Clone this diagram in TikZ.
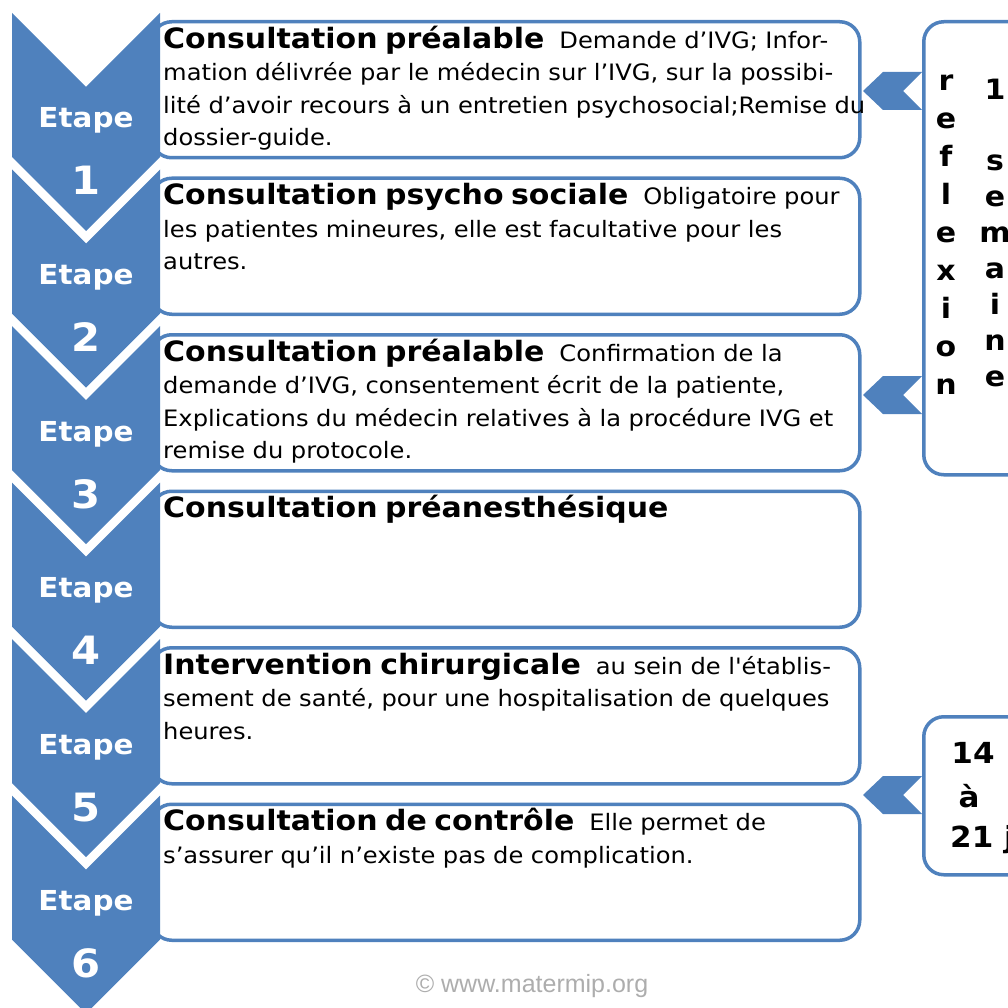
\documentclass[tikz,border=0pt]{standalone}
\usepackage{fontspec}
\setmainfont{DejaVu Sans}
\newfontfamily\comic[FakeStretch=1.07,Ligatures=TeXOff]{DejaVu Sans}
\newfontfamily\wmfont{Liberation Sans}
\definecolor{ablue}{HTML}{4F81BD}
\begin{document}
\begin{tikzpicture}[x=1pt,y=-1pt,
  mainbox/.style={draw=ablue, line width=3.5pt, rounded corners=20pt, fill=white, minimum width=708pt, minimum height=136pt, inner sep=0pt, anchor=north west},
  sidebox/.style={draw=ablue, line width=3.5pt, rounded corners=20pt, fill=white, minimum width=130pt, inner sep=0pt, anchor=north west},
  boxtext/.style={anchor=north west, inner sep=0pt, text width=760pt, align=left, font=\comic\fontsize{22.6}{32.5}\selectfont},
  etape/.style={text=white, font=\comic\bfseries\fontsize{27.5}{30}\selectfont, anchor=base, inner sep=0pt},
  digit/.style={text=white, font=\comic\bfseries\fontsize{39}{40}\selectfont, anchor=base, inner sep=0pt},
  vletter/.style={font=\comic\bfseries\fontsize{28}{30}\selectfont, anchor=base, inner sep=0pt},
  daytext/.style={font=\comic\bfseries\fontsize{29}{30}\selectfont, inner sep=0pt},
  ptr/.style={fill=ablue},
  chev/.style={fill=ablue},
]
\useasboundingbox (0,0) rectangle (1008,1008);
\clip (0,0) rectangle (1008,1008);
\newcommand\hd[1]{{\fontsize{28}{32.5}\selectfont\bfseries #1}\hspace{15pt}}
\newcommand\fl{\rule{0pt}{25pt}}
% main boxes
\foreach \k in {1,...,6} {
  \pgfmathsetmacro\by{20+156.5*(\k-1)}
  \node[mainbox] (B\k) at (150,\by) {};
}
% texts
\node[boxtext] (T1) at (163,23) {\fl\hd{Consultation préalable}Demande d’IVG; Infor-\\mation délivrée par le médecin sur l’IVG, sur la possibi-\\lité d’avoir recours à un entretien psychosocial;Remise du\\dossier-guide.};
\node[boxtext] (T2) at (163,179.5) {\fl\hd{Consultation psycho sociale}Obligatoire pour\\les patientes mineures, elle est facultative pour les\\autres.};
\node[boxtext] (T3) at (163,336) {\fl\hd{Consultation préalable}Confirmation de la\\demande d’IVG, consentement écrit de la patiente,\\Explications du médecin relatives à la procédure IVG et\\remise du protocole.};
\node[boxtext] (T4) at (163,492.5) {\fl\hd{Consultation préanesthésique}};
\node[boxtext] (T5) at (163,649) {\fl\hd{Intervention chirurgicale}au sein de l'établis-\\sement de santé, pour une hospitalisation de quelques\\heures.};
\node[boxtext] (T6) at (163,805.5) {\fl\hd{Consultation de contrôle}Elle permet de\\s’assurer qu’il n’existe pas de complication.};
% chevrons
\foreach \k in {1,...,6} {
  \pgfmathsetmacro\ty{13+156.5*(\k-1)}
  \fill[chev] (12,\ty) -- (86,\ty+74) -- (160,\ty) -- (160,\ty+144) -- (86,\ty+218) -- (12,\ty+144) -- cycle;
  \node[etape] (E\k) at (86,\ty+115) {Etape};
  \node[digit] (D\k) at (86,\ty+182) {\k};
}
% side boxes
\node[sidebox, minimum height=453pt] (R1) at (922,20) {};
\node[sidebox, minimum height=158pt] (R2) at (922,715) {};
% pointers
\foreach \c in {91,395,795}
  \fill[ptr] (863,\c) -- (883,\c-19) -- (922,\c-19) -- (903,\c) -- (922,\c+19) -- (883,\c+19) -- cycle;
% vertical letters
\foreach \ch [count=\i] in {r,e,f,l,e,x,i,o,n}
  \node[vletter] (L\i) at (946,52.5+38*\i) {\ch};
\node[vletter] (W0) at (995,100) {1};
\foreach \ch [count=\i] in {s,e,m,a,i,n,e}
  \node[vletter] (W\i) at (995,134.5+36*\i) {\ch};
% days
\node[daytext, anchor=base] (d1) at (973,763) {14};
\node[daytext, anchor=base] (d2) at (969,807) {à};
\node[daytext, anchor=base west] (d3) at (950,847) {21 j};
% watermark
\node[font=\wmfont\fontsize{25}{26}\selectfont, text=black!32, anchor=base, inner sep=0pt] (wm) at (532,992) {© www.matermip.org};
\end{tikzpicture}
\end{document}
